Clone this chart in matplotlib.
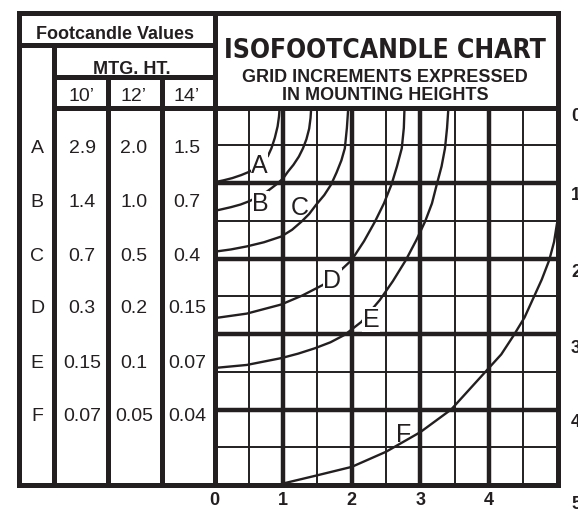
import matplotlib
matplotlib.use("Agg")
import matplotlib.pyplot as plt
from matplotlib import font_manager

# table values
rows = ["A", "B", "C", "D", "E", "F"]
heights = ["10’", "12’", "14’"]
fc_10 = ["2.9", "1.4", "0.7", "0.3", "0.15", "0.07"]
fc_12 = ["2.0", "1.0", "0.5", "0.2", "0.1", "0.05"]
fc_14 = ["1.5", "0.7", "0.4", "0.15", "0.07", "0.04"]

# isofootcandle curves, in mounting heights (y measured downward)
curve_a_x = [0.00, 0.13, 0.26, 0.39, 0.51, 0.62, 0.71, 0.78, 0.83, 0.88, 0.92, 0.94, 0.95]
curve_a_y = [0.99, 0.965, 0.935, 0.895, 0.85, 0.79, 0.72, 0.64, 0.54, 0.40, 0.25, 0.12, 0.0]
curve_b_x = [0, 0.12, 0.24, 0.38, 0.51, 0.64, 0.77, 0.90, 1.00, 1.07, 1.15, 1.23, 1.29, 1.34, 1.38, 1.40, 1.41]
curve_b_y = [1.37, 1.345, 1.32, 1.285, 1.24, 1.18, 1.11, 1.02, 0.94, 0.85, 0.76, 0.65, 0.54, 0.42, 0.28, 0.14, 0.0]
curve_c_x = [0, 0.24, 0.47, 0.72, 0.97, 1.13, 1.27, 1.38, 1.48, 1.60, 1.70, 1.78, 1.85, 1.90, 1.93, 1.95]
curve_c_y = [1.91, 1.88, 1.84, 1.785, 1.71, 1.62, 1.51, 1.41, 1.29, 1.16, 1.02, 0.86, 0.70, 0.54, 0.27, 0.0]
curve_d_x = [0, 0.47, 0.97, 1.28, 1.58, 1.80, 2.00, 2.18, 2.34, 2.47, 2.58, 2.66, 2.73, 2.76, 2.77]
curve_d_y = [2.79, 2.73, 2.61, 2.49, 2.35, 2.19, 2.02, 1.77, 1.51, 1.27, 1.02, 0.78, 0.54, 0.27, 0.0]
curve_e_x = [0, 0.47, 0.97, 1.22, 1.46, 1.69, 1.90, 2.14, 2.41, 2.60, 2.79, 2.94, 3.07, 3.17, 3.24, 3.31, 3.36, 3.39, 3.41]
curve_e_y = [3.45, 3.41, 3.32, 3.26, 3.19, 3.11, 3.01, 2.84, 2.55, 2.30, 2.02, 1.76, 1.51, 1.27, 1.02, 0.78, 0.54, 0.27, 0.0]
curve_f_x = [1.0, 1.46, 2.0, 2.5, 3.0, 3.45, 3.92, 4.18, 4.36, 4.52, 4.64, 4.77, 4.88, 4.95, 4.99]
curve_f_y = [4.98, 4.88, 4.76, 4.56, 4.30, 4.0, 3.53, 3.27, 3.02, 2.78, 2.54, 2.28, 2.02, 1.78, 1.55]

x_ticks = [0, 1, 2, 3, 4]
side_ticks = ["0", "1", "2", "3", "4", "5"]

INK = "#231f20"


def is_bold(w):
    if isinstance(w, str):
        return w in ("bold", "heavy", "black", "extra bold", "demibold", "semibold")
    return w >= 600


def narrow_bold_font():
    # look for any condensed / narrow bold face that is installed
    best = None
    for f in font_manager.fontManager.ttflist:
        tag = (f.name + " " + str(f.stretch)).lower()
        if "condensed" in tag or "narrow" in tag:
            if "extra" in tag or "ultra" in tag or "semi" in tag:
                continue
            if is_bold(f.weight) and not f.style != "normal":
                return font_manager.FontProperties(fname=f.fname)
            if best is None and f.style == "normal":
                best = f
    if best is not None:
        return font_manager.FontProperties(fname=best.fname, weight="bold")
    return font_manager.FontProperties(family="Liberation Sans", weight="bold")


plt.rcParams["font.family"] = ["Liberation Sans", "DejaVu Sans"]

fig = plt.figure(figsize=(5.78, 5.10), dpi=100)
fig.patch.set_facecolor("white")

# overlay in pixel units for the table and title box
ax = fig.add_axes([0, 0, 1, 1])
ax.set_xlim(0, 578)
ax.set_ylim(510, 0)
ax.axis("off")

# grid area, 0..5 mounting heights both ways
gx0, gx1, gy0, gy1 = 214.5, 557.5, 108.5, 486
gax = fig.add_axes([gx0 / 578, 1 - gy1 / 510, (gx1 - gx0) / 578, (gy1 - gy0) / 510])
gax.set_xlim(0, 5)
gax.set_ylim(5, 0)
gax.patch.set_alpha(0)
for s in gax.spines.values():
    s.set_linewidth(3.6)
    s.set_color(INK)

for k in range(1, 10):
    v = k * 0.5
    lw = 3.2 if k % 2 == 0 else 1.4
    gax.axvline(v, color=INK, lw=lw, zorder=1)
    gax.axhline(v, color=INK, lw=lw, zorder=1)

curves = [(curve_a_x, curve_a_y), (curve_b_x, curve_b_y), (curve_c_x, curve_c_y),
          (curve_d_x, curve_d_y), (curve_e_x, curve_e_y), (curve_f_x, curve_f_y)]
for cx, cy in curves:
    gax.plot(cx, cy, color=INK, lw=1.7, zorder=2, solid_joinstyle="round")

# curve labels (x, baseline y) and whether they cut the curve
label_pos = {"A": (0.656, 0.855, True), "B": (0.672, 1.36, True), "C": (1.246, 1.41, False),
             "D": (1.720, 2.38, True), "E": (2.281, 2.90, True), "F": (2.762, 4.42, False)}
for name in rows:
    lx, ly, cut = label_pos[name]
    bb = dict(facecolor="white", edgecolor="none", pad=0.3) if cut else None
    gax.text(lx, ly, name, ha="center", va="baseline", fontsize=18, color=INK, bbox=bb, zorder=3)

gax.set_xticks(x_ticks)
gax.set_xticklabels([str(t) for t in x_ticks], fontsize=13, fontweight="bold", color=INK)
gax.set_yticks([])
gax.tick_params(axis="x", length=0, pad=4.5)

# right-hand scale labels (they run off the edge, as in the original)
side_base = [121, 200, 277, 353, 427, 509]
for lab, yb in zip(side_ticks, side_base):
    ax.text(571, yb, lab, ha="left", va="baseline", fontsize=13, fontweight="bold", color=INK)

# table and title box frame
segs = [
    (19, 14, 557.5, 14), (19, 14, 19, 486), (19, 486, 214.5, 486),
    (19, 45.5, 214.5, 45.5), (54, 45.5, 54, 486), (54, 78, 214.5, 78),
    (54, 109, 214.5, 109), (108, 78, 108, 486), (162, 78, 162, 486),
    (214.5, 14, 214.5, 486), (557.5, 14, 557.5, 108.5),
]
for x0, y0, x1, y1 in segs:
    ax.plot([x0, x1], [y0, y1], color=INK, lw=3.6, solid_capstyle="projecting")

ax.text(115, 39, "Footcandle Values", ha="center", va="baseline", fontsize=13, fontweight="bold", color=INK)
ax.text(132, 74, "MTG. HT.", ha="center", va="baseline", fontsize=13, fontweight="bold", color=INK)
col_x = [82, 134, 187]
for cx, h in zip(col_x, heights):
    ax.text(cx, 101, h, ha="center", va="baseline", fontsize=14, color=INK)

row_base = [153, 207, 261, 313, 368, 421]
for i, name in enumerate(rows):
    yb = row_base[i]
    ax.text(37, yb, name, ha="center", va="baseline", fontsize=14, color=INK)
    for cx, col in zip(col_x, [fc_10, fc_12, fc_14]):
        ax.text(cx, yb, col[i], ha="center", va="baseline", fontsize=14, color=INK)

title = ax.text(385, 58, "ISOFOOTCANDLE CHART", ha="center", va="baseline", fontsize=27,
                fontproperties=narrow_bold_font(), color=INK)
title.set_fontsize(27)
renderer = fig.canvas.get_renderer()
w = title.get_window_extent(renderer).width
if w > 322:
    title.set_fontsize(27 * 322 / w)
ax.text(385, 82, "GRID INCREMENTS EXPRESSED", ha="center", va="baseline", fontsize=13,
        fontweight="bold", color=INK)
ax.text(385, 100, "IN MOUNTING HEIGHTS", ha="center", va="baseline", fontsize=13,
        fontweight="bold", color=INK)

fig.savefig("out.png", dpi=100)
